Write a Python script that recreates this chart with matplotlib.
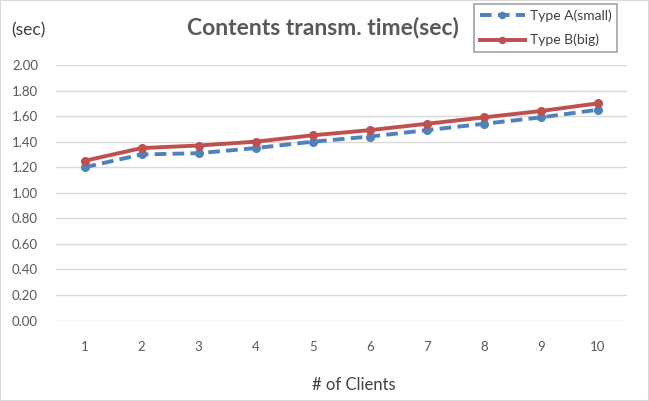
import matplotlib
matplotlib.use("Agg")
import matplotlib.pyplot as plt
from matplotlib.patches import Rectangle

plt.rcParams['font.family'] = ['Lato', 'DejaVu Sans']

clients = ['1', '2', '3', '4', '5', '6', '7', '8', '9', '10']
type_a = [1.20, 1.30, 1.31, 1.35, 1.40, 1.44, 1.49, 1.54, 1.59, 1.65]
type_b = [1.25, 1.35, 1.37, 1.40, 1.45, 1.49, 1.54, 1.59, 1.64, 1.70]
yticks = [0.0, 0.2, 0.4, 0.6, 0.8, 1.0, 1.2, 1.4, 1.6, 1.8, 2.0]

W, H = 649, 401
fig = plt.figure(figsize=(W / 100, H / 100), dpi=100)
fig.patch.set_facecolor('white')
ax = fig.add_axes([56 / W, 1 - 320.6 / H, (626.5 - 56) / W, (320.6 - 65) / H])

x = list(range(len(clients)))
blue = '#4f81bd'
red = '#c0504d'
la, = ax.plot(x, type_a, color=blue, lw=2.8, ls=(0, (3, 1.6)), marker='o', ms=5.5,
              markerfacecolor=blue, markeredgecolor=blue, label='Type A(small)', zorder=3)
lb, = ax.plot(x, type_b, color=red, lw=2.8, ls='-', marker='o', ms=5.5,
              markerfacecolor=red, markeredgecolor=red, label='Type B(big)', zorder=4)

ax.set_xlim(-0.5, len(clients) - 0.5)
ax.set_ylim(0, 2.0)
ax.set_yticks(yticks)
ax.set_yticklabels([f'{v:.2f}' for v in yticks])
ax.set_xticks(x)
ax.set_xticklabels(clients)
ax.grid(axis='y', color='#d9d9d9', lw=1)
ax.set_axisbelow(True)
for s in ax.spines.values():
    s.set_visible(False)
ax.tick_params(length=0, labelsize=9.5, labelcolor='#595959')
ax.tick_params(axis='y', pad=13)
ax.tick_params(axis='x', pad=15)

fig.text(354 / W, 1 - 385 / H, '# of Clients', ha='center', va='center',
         fontsize=12, color='#404040')
fig.text(323 / W, 1 - 27 / H, 'Contents transm. time(sec)', ha='center', va='center',
         fontsize=16.5, fontweight='bold', color='#595959')
fig.text(11 / W, 1 - 30 / H, '(sec)', ha='left', va='center', fontsize=12.5, color='#404040')

leg = fig.legend(handles=[la, lb], loc='upper left', bbox_to_anchor=(474 / W, 1 - 4 / H),
                 fontsize=10, frameon=True, fancybox=False, edgecolor='#8c8c8c',
                 handlelength=3.3, borderpad=0.4, labelspacing=0.85, handletextpad=0.3,
                 borderaxespad=0, markerscale=0.8)
leg.get_frame().set_linewidth(1.2)
for t in leg.get_texts():
    t.set_color('#404040')

fig.patches.append(Rectangle((0, 0), 1, 1, transform=fig.transFigure, fill=False,
                             edgecolor='#d9d9d9', lw=1.5))

fig.savefig('out.png', dpi=100)
